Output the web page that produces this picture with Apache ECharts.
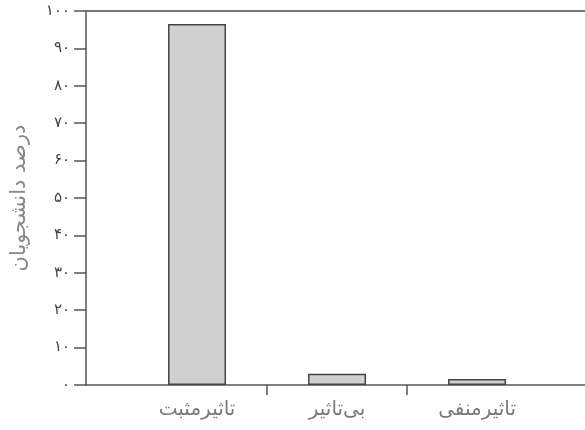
<!DOCTYPE html>
<html><head><meta charset="utf-8">
<script src="https://cdn.jsdelivr.net/npm/echarts@6/dist/echarts.min.js"></script>
<style>html,body{margin:0;padding:0;background:#fff}#c{width:585px;height:430px}</style>
</head><body><div id="c"></div>
<script>
const categories = ['تاثیرمثبت', 'بی‌تاثیر', 'تاثیرمنفی'];
const values = [96.5, 3, 1.6];
const categoryPositions = [0.5, 1.5, 2.5];
const categoryDividers = [1, 2];
const yTickLabels = ['۰','۱۰','۲۰','۳۰','۴۰','۵۰','۶۰','۷۰','۸۰','۹۰','۱۰۰'];
const yAxisName = 'درصد دانشجویان';

const chart = echarts.init(document.getElementById('c'));
const lineColor = '#555';
chart.setOption({
  animation: false,
  backgroundColor: '#fff',
  grid: { left: 86, right: 0, top: 11, bottom: 45, containLabel: false },
  xAxis: [{
    type: 'value', min: -0.293, max: 3.271, position: 'bottom',
    splitLine: { show: false },
    axisLine: { show: true, onZero: false, lineStyle: { color: lineColor, width: 1.5 } },
    axisTick: { show: true, customValues: categoryDividers, length: 10, inside: false, lineStyle: { color: lineColor, width: 1.5 } },
    axisLabel: {
      show: true, customValues: categoryPositions, margin: 15,
      color: '#7a7a7a', fontFamily: 'DejaVu Sans', fontSize: 20,
      formatter: function (v) { return categories[Math.floor(v)]; }
    }
  }, {
    type: 'value', min: -0.293, max: 3.271, position: 'top',
    splitLine: { show: false },
    axisLine: { show: true, onZero: false, lineStyle: { color: '#777', width: 2 } },
    axisTick: { show: false }, axisLabel: { show: false }
  }],
  yAxis: {
    type: 'value', min: 0, max: 100, interval: 10,
    splitLine: { show: false },
    axisLine: { show: true, onZero: false, lineStyle: { color: lineColor, width: 1.5 } },
    axisTick: { show: true, inside: false, length: 12, lineStyle: { color: lineColor, width: 1.5 } },
    axisLabel: {
      margin: 16, color: '#444', fontFamily: 'DejaVu Sans', fontSize: 15,
      formatter: function (v) { return yTickLabels[Math.round(v / 10)]; }
    },
    name: yAxisName, nameLocation: 'middle', nameGap: 56, nameRotate: 90,
    nameTextStyle: { color: '#888', fontFamily: 'DejaVu Sans', fontSize: 21 }
  },
  series: [{
    type: 'bar', xAxisIndex: 0, barWidth: 58,
    data: categoryPositions.map(function (p, i) { return [p, values[i]]; }),
    itemStyle: { color: '#d0d0d0', borderColor: '#444', borderWidth: 1.5 }
  }]
});
</script></body></html>
